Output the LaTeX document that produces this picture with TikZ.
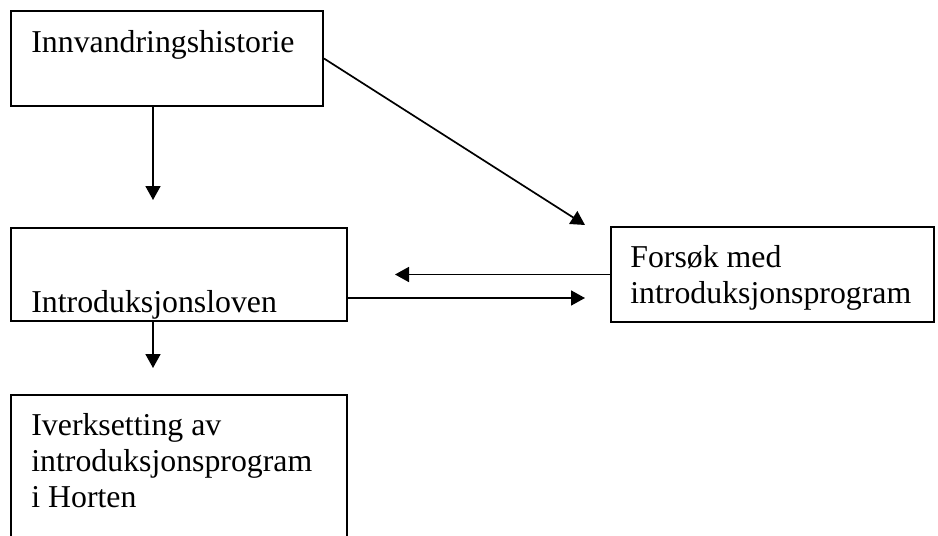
\documentclass[tikz,border=0pt]{standalone}
\usepackage{fontspec}
\setmainfont{Liberation Serif}
\usetikzlibrary{arrows.meta}

\begin{document}
\begin{tikzpicture}[x=0.5pt,y=-0.5pt,
  every node/.style={inner sep=0pt,font=\fontsize{15.9pt}{18pt}\selectfont},
  box/.style={draw,rectangle,anchor=north west,line width=1pt},
  txt/.style={anchor=base west,align=left},
  >={Triangle[length=7pt,width=7.5pt]}]
  \clip (0,0) rectangle (938,536);
  % boxes
  \node[box,minimum width=156pt,minimum height=47.5pt] (h) at (10,10)  {};
  \node[box,minimum width=168pt,minimum height=46.5pt] (l) at (10,227) {};
  \node[box,minimum width=161.5pt,minimum height=47.5pt] (f) at (610,226) {};
  \node[box,minimum width=168pt,minimum height=75.5pt] (i) at (10,394) {};

  % texts (base = last line)
  \node[txt] (th) at (31,52)  {Innvandringshistorie};
  \node[txt] (tl) at (31,312) {Introduksjonsloven};
  \node[txt] (tf) at (630,303) {Fors\o k med\\introduksjonsprogram};
  \node[txt] (ti) at (31,507) {Iverksetting av\\introduksjonsprogram\\i Horten};

  % arrow tips
  \coordinate (t1) at (153,200);
  \coordinate (t2) at (585,225);
  \coordinate (t3) at (395,273);
  \coordinate (t4) at (585,298);
  \coordinate (t5) at (153,368);

  \foreach \from/\to in {h.south -| t1/t1, h.east/t2, f.west/t3 |- f.west, l.east |- t4/t4, l.south -| t5/t5}
    \draw[->,line width=0.85pt] (\from) -- (\to);

\end{tikzpicture}
\end{document}
